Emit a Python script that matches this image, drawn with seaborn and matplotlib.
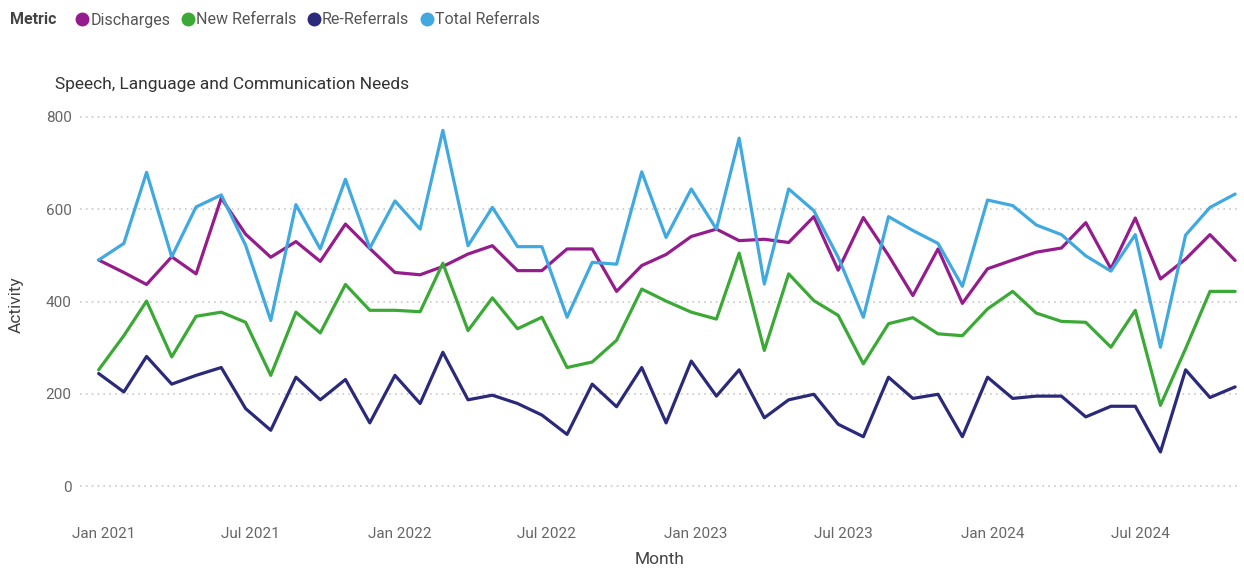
import numpy as np
import pandas as pd
import matplotlib.pyplot as plt
from matplotlib.lines import Line2D
import seaborn as sns

###################################
# Data (monthly, Jan 2021 - Nov 2024)

months = pd.date_range("2021-01-01", "2024-11-01", freq="MS")

discharges = [490, 463, 437, 497, 460, 624, 546, 496, 530, 487, 568, 515,
              463, 458, 476, 503, 521, 467, 467, 514, 514, 422, 478, 502,
              541, 557, 532, 535, 528, 584, 468, 582, 500, 413, 514, 396,
              471, 490, 507, 516, 571, 471, 581, 449, 492, 545, 489]

new_referrals = [252, 326, 401, 280, 368, 377, 355, 240, 377, 332, 437, 381,
                 381, 378, 483, 337, 408, 341, 366, 257, 269, 316, 427, 401,
                 377, 362, 505, 294, 460, 402, 370, 265, 352, 365, 330, 326,
                 384, 422, 375, 357, 355, 301, 381, 175, 298, 422, 422]

re_referrals = [244, 204, 281, 221, 240, 257, 168, 121, 236, 187, 231, 137,
                240, 179, 290, 187, 197, 179, 154, 112, 221, 172, 257, 137,
                271, 195, 252, 148, 187, 199, 134, 107, 236, 190, 199, 107,
                236, 190, 195, 195, 150, 173, 173, 74, 252, 192, 215]

total_referrals = [490, 526, 680, 497, 605, 631, 522, 359, 610, 514, 665, 516,
                   618, 557, 771, 521, 604, 519, 519, 366, 485, 481, 681, 539,
                   644, 557, 754, 438, 644, 597, 496, 366, 584, 554, 526, 433,
                   620, 608, 566, 545, 499, 466, 545, 301, 544, 604, 633]

metrics = ["Discharges", "New Referrals", "Re-Referrals", "Total Referrals"]
colors = ["#951C8C", "#3BA935", "#2B2A7A", "#3FA9E0"]

tick_dates = pd.date_range("2021-01-01", "2024-07-01", freq="6MS")
tick_labels = [d.strftime("%b %Y") for d in tick_dates]

###################################

df = pd.DataFrame({
    "Month": np.tile(months, 4),
    "Activity": discharges + new_referrals + re_referrals + total_referrals,
    "Metric": np.repeat(metrics, len(months)),
})

sns.set_style("white")
plt.rcParams["font.family"] = ["Roboto", "DejaVu Sans"]

fig = plt.figure(figsize=(12.44, 5.74), dpi=100)
W, H = 1244, 574
ax = fig.add_axes([80 / W, 1 - 505 / H, 1160 / W, 400 / H])

sns.lineplot(data=df, x="Month", y="Activity", hue="Metric",
             hue_order=metrics, palette=colors, linewidth=2.3,
             legend=False, ax=ax)

ax.set_ylim(-41, 826)
ax.set_yticks([0, 200, 400, 600, 800])
day = pd.Timedelta(days=1)
ax.set_xlim(months[0] - 23 * day, months[-1] + 6 * day)
ax.set_xticks(tick_dates + 6 * day)
ax.set_xticklabels(tick_labels)

ax.grid(axis="y", color="#C8C8C8", linestyle=(0, (1, 2.5)), linewidth=1.2)
ax.grid(axis="x", visible=False)
for s in ax.spines.values():
    s.set_visible(False)
ax.tick_params(axis="both", length=0, labelsize=11, colors="#666666")
ax.tick_params(axis="x", pad=16)
ax.tick_params(axis="y", pad=6)

ax.set_xlabel("Month", fontsize=12.5, color="#444444", labelpad=8)
ax.set_ylabel("Activity", fontsize=12.5, color="#444444", labelpad=16)

fig.text(55 / W, 1 - 85 / H, "Speech, Language and Communication Needs",
         fontsize=12.5, color="#333333", va="center", ha="left")

# Legend row at the top
fig.text(10 / W, 1 - 20 / H, "Metric", fontsize=11.5, fontweight="bold",
         color="#444444", va="center", ha="left")
handles = [Line2D([], [], marker="o", linestyle="", color=c, markersize=9)
           for c in colors]
fig.legend(handles, metrics, loc="center left",
           bbox_to_anchor=(60 / W, 1 - 20 / H), ncol=4, frameon=False,
           fontsize=11.5, handletextpad=-0.5, columnspacing=0.1,
           labelcolor="#555555", borderaxespad=0)

fig.savefig("out.png", dpi=100)
